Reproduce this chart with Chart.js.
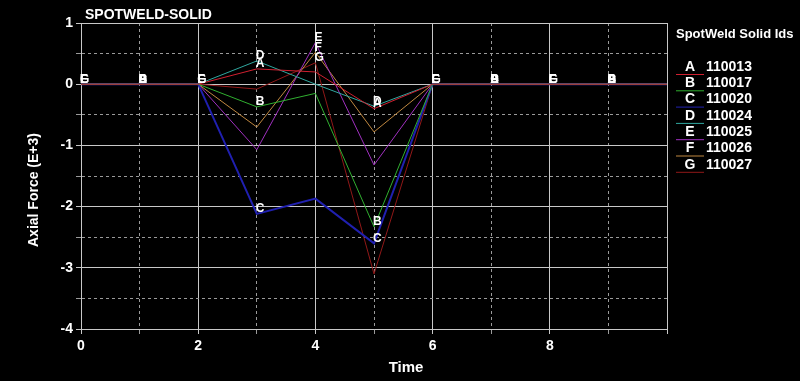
<!DOCTYPE html>
<html>
<head>
<meta charset="utf-8">
<script src="https://cdn.jsdelivr.net/npm/chart.js"></script>
<style>
  html, body { margin: 0; padding: 0; background: #000; }
  #wrap { width: 800px; height: 381px; }
</style>
</head>
<body>
<div id="wrap"><canvas id="spotChart"></canvas></div>
<script>
// time steps and axial force per spot weld (E+3)
const times = [0, 1, 2, 3, 4, 5, 6, 7, 8, 9, 10];
const seriesA = [0, 0, 0, 0.25, 0.2, -0.4, 0, 0, 0, 0, 0];
const seriesB = [0, 0, 0, -0.37, -0.15, -2.33, 0, 0, 0, 0, 0];
const seriesC = [0, 0, 0, -2.12, -1.87, -2.6, 0, 0, 0, 0, 0];
const seriesD = [0, 0, 0, 0.38, 0.0, -0.36, 0, 0, 0, 0, 0];
const seriesE = [0, 0, 0, -1.07, 0.68, -1.32, 0, 0, 0, 0, 0];
const seriesF = [0, 0, 0, -0.7, 0.52, -0.78, 0, 0, 0, 0, 0];
const seriesG = [0, 0, 0, -0.08, 0.35, -3.1, 0, 0, 0, 0, 0];

const letters = ['A', 'B', 'C', 'D', 'E', 'F', 'G'];
const weldIds = ['110013', '110017', '110020', '110024', '110025', '110026', '110027'];
const colors = ['#d02030', '#30b030', '#2020b0', '#30a8a0', '#a030c0', '#c08840', '#901818'];
// points where each curve gets its letter
const oddTimes = [1, 3, 5, 7, 9];
const evenTimes = [0, 2, 4, 6, 8];
const markAt = [oddTimes, oddTimes, oddTimes, oddTimes, evenTimes, evenTimes, evenTimes];

const allSeries = [seriesA, seriesB, seriesC, seriesD, seriesE, seriesF, seriesG];

const datasets = allSeries.map((s, i) => ({
    label: letters[i] + ' ' + weldIds[i],
    data: times.map((t, j) => ({ x: t, y: s[j] })),
    borderColor: colors[i],
    backgroundColor: colors[i],
    borderWidth: i === 2 ? 2 : 1,
    pointRadius: 0,
    tension: 0
}));

const blackBg = {
    id: 'blackBg',
    beforeDraw(chart) {
        const c = chart.ctx;
        c.save();
        c.fillStyle = '#000';
        c.fillRect(0, 0, chart.width, chart.height);
        c.restore();
    }
};

const curveLetters = {
    id: 'curveLetters',
    afterDatasetsDraw(chart) {
        const c = chart.ctx;
        c.save();
        c.font = 'bold 12px "Liberation Sans", Arial, sans-serif';
        c.fillStyle = '#fff';
        c.textAlign = 'left';
        c.textBaseline = 'middle';
        chart.data.datasets.forEach((ds, i) => {
            const meta = chart.getDatasetMeta(i);
            markAt[i].forEach(t => {
                const pt = meta.data[times.indexOf(t)];
                if (pt) c.fillText(letters[i], pt.x - 1, pt.y - 5);
            });
        });
        c.restore();
    }
};

const sideLegend = {
    id: 'sideLegend',
    afterDraw(chart) {
        const c = chart.ctx;
        const x0 = chart.chartArea.right + 9;
        c.save();
        c.fillStyle = '#fff';
        c.textBaseline = 'middle';
        c.font = 'bold 13px "Liberation Sans", Arial, sans-serif';
        c.fillText('SpotWeld Solid Ids', x0, 34);
        c.font = 'bold 14px "Liberation Sans", Arial, sans-serif';
        letters.forEach((l, i) => {
            const y = 67 + i * 16.3;
            c.textAlign = 'center';
            c.fillText(l, x0 + 14, y);
            c.textAlign = 'left';
            c.fillText(weldIds[i], x0 + 30, y);
            c.strokeStyle = colors[i];
            c.lineWidth = 1;
            c.beginPath();
            c.moveTo(x0, y + 7.5);
            c.lineTo(x0 + 28, y + 7.5);
            c.stroke();
        });
        c.restore();
    }
};

// plot title and axis titles are centred on the whole picture, not the plot area
const titles = {
    id: 'titles',
    afterDraw(chart) {
        const c = chart.ctx;
        c.save();
        c.fillStyle = '#fff';
        c.textBaseline = 'middle';
        c.font = 'bold 14px "Liberation Sans", Arial, sans-serif';
        c.fillText('SPOTWELD-SOLID', 85, 15);
        c.textAlign = 'center';
        c.font = 'bold 15px "Liberation Sans", Arial, sans-serif';
        c.fillText('Time', 406, 368);
        c.translate(34, 190);
        c.rotate(-Math.PI / 2);
        c.font = 'bold 14px "Liberation Sans", Arial, sans-serif';
        c.fillText('Axial Force (E+3)', 0, 0);
        c.restore();
    }
};

const tickFont = { family: '"Liberation Sans Narrow", "Liberation Sans", Arial, sans-serif', size: 14, weight: 'bold' };
const isMajor = (v, step) => Math.abs(v / step - Math.round(v / step)) < 1e-6;

new Chart(document.getElementById('spotChart'), {
    type: 'line',
    data: { datasets: datasets },
    options: {
        responsive: true,
        maintainAspectRatio: false,
        animation: false,
        layout: { padding: { top: 23, right: 133, left: 0, bottom: 0 } },
        scales: {
            x: {
                type: 'linear',
                min: 0,
                max: 10,
                afterFit: s => { s.height = 52; },
                ticks: {
                    stepSize: 1,
                    color: '#fff',
                    font: tickFont,
                    padding: 4,
                    maxRotation: 0,
                    autoSkip: false,
                    callback: v => (isMajor(v, 2) && v < 10 ? String(v) : '')
                },
                grid: {
                    color: ctx => (ctx.tick && isMajor(ctx.tick.value, 2) ? '#c8c8c8' : '#9a9a9a'),
                    lineWidth: 1,
                    tickLength: 5
                },
                border: {
                    display: true,
                    color: '#c8c8c8',
                    dash: ctx => (ctx.tick && isMajor(ctx.tick.value, 2) ? [] : [3, 3])
                }
            },
            y: {
                min: -4,
                max: 1,
                afterFit: s => { s.width = 81; },
                ticks: {
                    stepSize: 0.5,
                    color: '#fff',
                    font: tickFont,
                    padding: 3,
                    autoSkip: false,
                    callback: v => (isMajor(v, 1) ? String(v) : '')
                },
                grid: {
                    color: ctx => (ctx.tick && isMajor(ctx.tick.value, 1) ? '#c8c8c8' : '#9a9a9a'),
                    lineWidth: 1,
                    tickLength: 5
                },
                border: {
                    display: true,
                    color: '#c8c8c8',
                    dash: ctx => (ctx.tick && isMajor(ctx.tick.value, 1) ? [] : [3, 3])
                }
            }
        },
        plugins: {
            legend: { display: false },
            tooltip: { enabled: false },
            title: { display: false }
        }
    },
    plugins: [blackBg, curveLetters, sideLegend, titles]
});
</script>
</body>
</html>
